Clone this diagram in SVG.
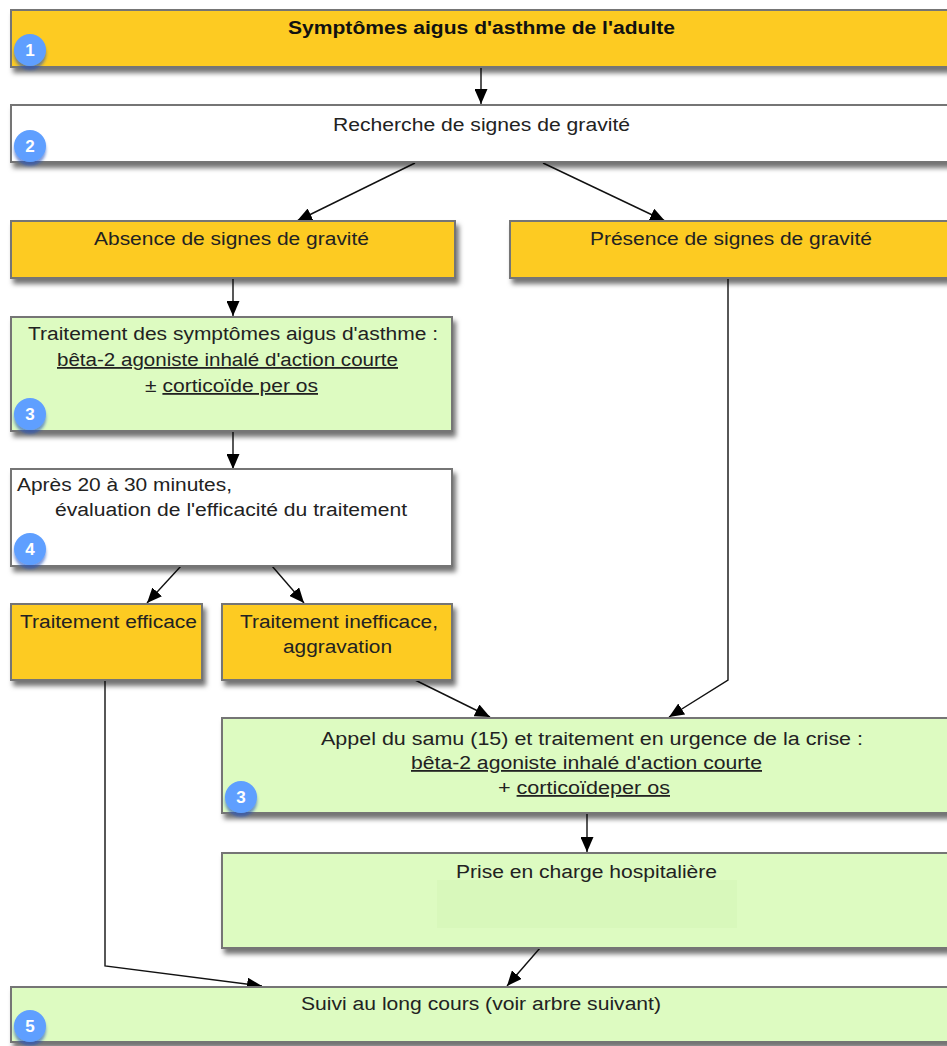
<svg xmlns="http://www.w3.org/2000/svg" width="947" height="1046" viewBox="0 0 947 1046">
<defs>
<style>
.box{stroke:#747474;stroke-width:2;filter:url(#sh)}
.y{fill:#FDCB22}
.w{fill:#FFFFFF}
.g{fill:#DDFBC1}
.t{font-family:"Liberation Sans",Arial,sans-serif;font-size:18px;fill:#222;text-anchor:middle}
.tl{text-anchor:start}
.b{font-weight:bold;fill:#111}
.u{text-decoration:underline}
.c{fill:none;stroke:#111;stroke-width:1.4}
.badge{fill:#5E9FFF;filter:url(#bsh)}
.bn{font-family:"Liberation Sans",Arial,sans-serif;font-size:17px;font-weight:bold;fill:#fff;text-anchor:middle}
</style>
<filter id="sh" x="-5%" y="-20%" width="115%" height="160%">
<feDropShadow dx="3" dy="5" stdDeviation="2.5" flood-color="#000" flood-opacity="0.55"/>
</filter>
<filter id="bsh" x="-50%" y="-50%" width="200%" height="220%">
<feDropShadow dx="0" dy="4" stdDeviation="1.5" flood-color="#1F4FC0" flood-opacity="0.6"/>
</filter>
<marker id="ah" markerUnits="userSpaceOnUse" markerWidth="15" markerHeight="13" refX="15" refY="6.5" orient="auto">
<path d="M0,0 L15,6.5 L0,13 z" fill="#000"/>
</marker>
</defs>
<rect width="947" height="1046" fill="#fff"/>

<g id="connectors">
<path class="c" d="M481,67 L481,104" marker-end="url(#ah)"/>
<path class="c" d="M415,163 L297,221" marker-end="url(#ah)"/>
<path class="c" d="M543,163 L665,221" marker-end="url(#ah)"/>
<path class="c" d="M233,278 L233,316" marker-end="url(#ah)"/>
<path class="c" d="M233,431 L233,469" marker-end="url(#ah)"/>
<path class="c" d="M181,566 L147,603" marker-end="url(#ah)"/>
<path class="c" d="M272,566 L304,603" marker-end="url(#ah)"/>
<path class="c" d="M728,278 L728,680 L669,717" marker-end="url(#ah)"/>
<path class="c" d="M415,680 L490,717" marker-end="url(#ah)"/>
<path class="c" d="M587,812 L587,852" marker-end="url(#ah)"/>
<path class="c" d="M105,680 L105,966 L262,986" marker-end="url(#ah)"/>
<path class="c" d="M540,948 L507,986" marker-end="url(#ah)"/>
</g>

<g id="n1">
<rect class="box y" x="11" y="10" width="960" height="57"/>
<text class="t b" x="481.5" y="34" textLength="387" lengthAdjust="spacingAndGlyphs">Symptômes aigus d'asthme de l'adulte</text>
<circle class="badge" cx="30" cy="50" r="16"/><text class="bn" x="30" y="56">1</text>
</g>

<g id="n2">
<rect class="box w" x="11" y="105" width="960" height="57"/>
<text class="t" x="481.5" y="131" textLength="297" lengthAdjust="spacingAndGlyphs">Recherche de signes de gravité</text>
<circle class="badge" cx="30" cy="146" r="16"/><text class="bn" x="30" y="152">2</text>
</g>

<g id="absence">
<rect class="box y" x="11" y="221" width="444" height="57"/>
<text class="t" x="231.5" y="245" textLength="275" lengthAdjust="spacingAndGlyphs">Absence de signes de gravité</text>
</g>

<g id="presence">
<rect class="box y" x="510" y="221" width="460" height="57"/>
<text class="t" x="731" y="245" textLength="282" lengthAdjust="spacingAndGlyphs">Présence de signes de gravité</text>
</g>

<g id="n3">
<rect class="box g" x="11" y="317" width="441" height="114"/>
<text class="t" x="233" y="340" textLength="410" lengthAdjust="spacingAndGlyphs">Traitement des symptômes aigus d'asthme :</text>
<text class="t u" x="227.5" y="366" textLength="341" lengthAdjust="spacingAndGlyphs">bêta-2 agoniste inhalé d'action courte</text>
<text class="t" x="231.5" y="392" textLength="173" lengthAdjust="spacingAndGlyphs">± <tspan class="u">corticoïde per os</tspan></text>
<circle class="badge" cx="30" cy="414" r="16"/><text class="bn" x="30" y="420">3</text>
</g>

<g id="n4">
<rect class="box w" x="11" y="469" width="441" height="97"/>
<text class="t tl" x="17" y="491" textLength="215" lengthAdjust="spacingAndGlyphs">Après 20 à 30 minutes,</text>
<text class="t tl" x="55" y="516" textLength="352" lengthAdjust="spacingAndGlyphs">évaluation de l'efficacité du traitement</text>
<circle class="badge" cx="30" cy="549" r="16"/><text class="bn" x="30" y="555">4</text>
</g>

<g id="efficace">
<rect class="box y" x="11" y="604" width="191" height="76"/>
<text class="t" x="108.5" y="628" textLength="177" lengthAdjust="spacingAndGlyphs">Traitement efficace</text>
</g>

<g id="inefficace">
<rect class="box y" x="222" y="604" width="230" height="76"/>
<text class="t" x="339" y="628" textLength="198" lengthAdjust="spacingAndGlyphs">Traitement inefficace,</text>
<text class="t" x="337.5" y="653" textLength="109" lengthAdjust="spacingAndGlyphs">aggravation</text>
</g>

<g id="appel">
<rect class="box g" x="222" y="718" width="750" height="95"/>
<text class="t" x="592" y="745" textLength="542" lengthAdjust="spacingAndGlyphs">Appel du samu (15) et traitement en urgence de la crise :</text>
<text class="t u" x="586.5" y="769" textLength="351" lengthAdjust="spacingAndGlyphs">bêta-2 agoniste inhalé d'action courte</text>
<text class="t" x="584" y="794" textLength="172" lengthAdjust="spacingAndGlyphs">+ <tspan class="u">corticoïdeper os</tspan></text>
<circle class="badge" cx="241" cy="797" r="16"/><text class="bn" x="241" y="803">3</text>
</g>

<g id="prise">
<rect class="box g" x="222" y="853" width="750" height="95"/>
<rect x="437" y="880" width="300" height="48" fill="#D8F8BB"/>
<text class="t" x="586.5" y="878" textLength="261" lengthAdjust="spacingAndGlyphs">Prise en charge hospitalière</text>
</g>

<g id="n5">
<rect class="box g" x="11" y="987" width="960" height="55"/>
<text class="t" x="481" y="1010" textLength="360" lengthAdjust="spacingAndGlyphs">Suivi au long cours (voir arbre suivant)</text>
<circle class="badge" cx="30" cy="1026" r="16"/><text class="bn" x="30" y="1032">5</text>
</g>
</svg>
